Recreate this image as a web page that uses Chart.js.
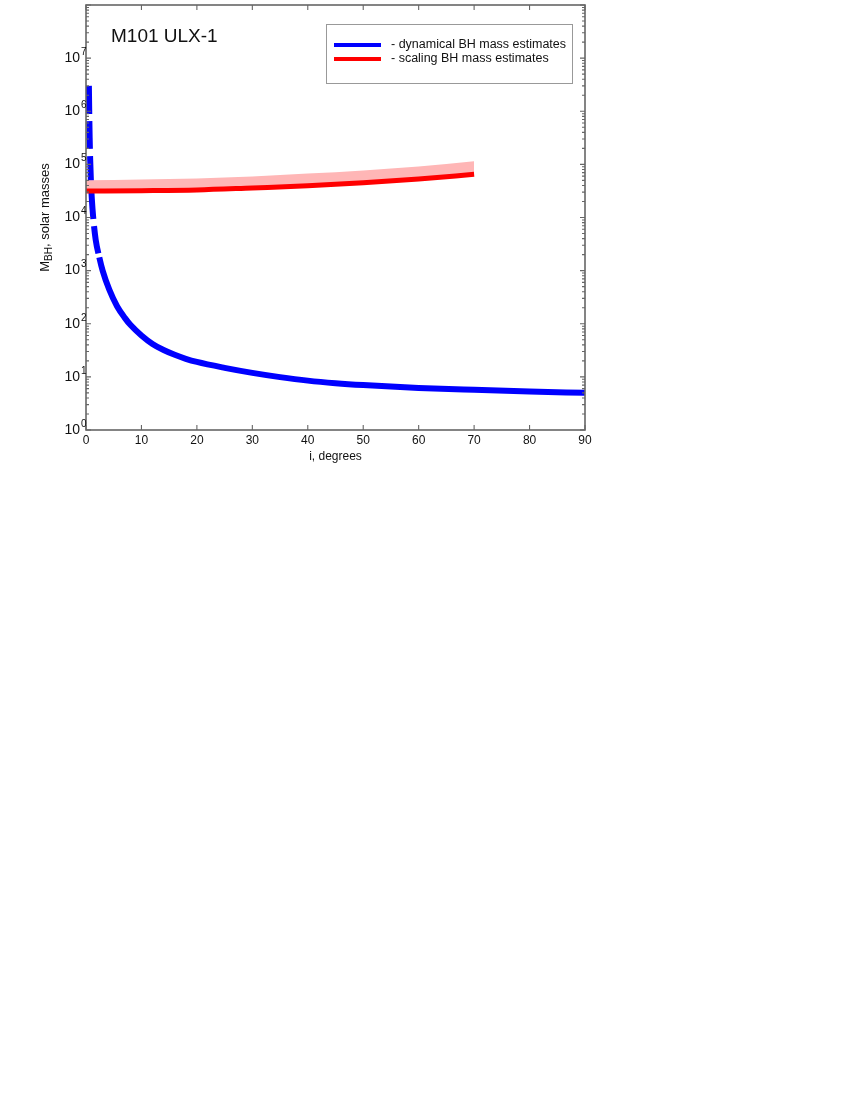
<!DOCTYPE html>
<html>
<head>
<meta charset="utf-8">
<script src="https://cdn.jsdelivr.net/npm/chart.js@4.4.1/dist/chart.umd.min.js"></script>
<style>
html,body{margin:0;padding:0;background:#fff;}
#wrap{position:relative;width:850px;height:1100px;}
</style>
</head>
<body>
<div id="wrap"><canvas id="c" width="850" height="1100"></canvas></div>
<script>
// dynamical BH mass vs inclination
const blueI=[0.52,0.58,0.66,0.75,0.88,1.05,1.3,1.75,2.4,3,4.2,5.6,7,8,10,12,14,16,18,20,25,30,35,40,45,50,60,70,80,90];
const blueM=[3.0e6,1.0e6,3.16e5,1.26e5,5.0e4,2.24e4,1.0e4,3.8e3,1.78e3,1.0e3,437,214,129,95.5,60.3,41.7,32.0,26.0,21.9,19.1,14.8,11.9,9.9,8.5,7.6,7.0,6.2,5.7,5.3,5.0];
// scaling BH mass (line) and upper edge of its band
const redI=[0,10,20,30,40,50,60,70];
const redM=[3.15e4,3.2e4,3.3e4,3.6e4,3.95e4,4.5e4,5.3e4,6.5e4];
const pinkM=[5.0e4,5.2e4,5.45e4,5.9e4,6.7e4,7.7e4,9.1e4,1.15e5];

const xTicks=[0,10,20,30,40,50,60,70,80,90];
const yExp=[0,1,2,3,4,5,6,7,8];
const title="M101 ULX-1";
const xTitle="i, degrees";
const dashedUpTo=2.4;

const pts=(xs,ys)=>xs.map((v,i)=>({x:v,y:ys[i]}));
const FONT='Arial, "Liberation Sans", sans-serif';

const decor={
  id:'decor',
  afterDatasetsDraw(chart){
    const {ctx,chartArea:a,scales:{x,y}}=chart;
    ctx.save();
    ctx.strokeStyle='#666';
    ctx.lineWidth=1.6;
    ctx.strokeRect(a.left,a.top,a.right-a.left,a.bottom-a.top);
    ctx.lineWidth=1.1;
    ctx.beginPath();
    xTicks.forEach(v=>{
      let px=x.getPixelForValue(v);
      ctx.moveTo(px,a.bottom);ctx.lineTo(px,a.bottom-5);
      ctx.moveTo(px,a.top);ctx.lineTo(px,a.top+5);
    });
    yExp.forEach(e=>{
      for(let k=1;k<10;k++){
        if(e===8&&k>1) break;
        let py=y.getPixelForValue(k*Math.pow(10,e));
        let len=k===1?5:3;
        ctx.moveTo(a.left,py);ctx.lineTo(a.left+len,py);
        ctx.moveTo(a.right,py);ctx.lineTo(a.right-len,py);
      }
    });
    ctx.stroke();

    ctx.fillStyle='#111';
    // x tick labels
    ctx.font='12px '+FONT;
    ctx.textAlign='center';ctx.textBaseline='middle';
    xTicks.forEach(v=>ctx.fillText(String(v),x.getPixelForValue(v),a.bottom+11));
    ctx.fillText(xTitle,(a.left+a.right)/2,a.bottom+27);

    // y tick labels 10^n
    yExp.forEach(e=>{
      if(e===8) return;
      let py=y.getPixelForValue(Math.pow(10,e));
      ctx.font='14px '+FONT;
      ctx.textAlign='right';ctx.textBaseline='middle';
      ctx.fillText('10',a.left-6,py);
      ctx.font='10px '+FONT;
      ctx.textAlign='left';
      ctx.fillText(String(e),a.left-5,py-6);
    });

    // y title with subscript
    ctx.save();
    ctx.translate(45,(a.top+a.bottom)/2);
    ctx.rotate(-Math.PI/2);
    ctx.textBaseline='middle';ctx.textAlign='left';
    const big='13px '+FONT, small='10px '+FONT;
    ctx.font=big;let w1=ctx.measureText('M').width,w3=ctx.measureText(', solar masses').width;
    ctx.font=small;let w2=ctx.measureText('BH').width;
    let sx=-(w1+w2+w3)/2;
    ctx.font=big;ctx.fillText('M',sx,0);
    ctx.font=small;ctx.fillText('BH',sx+w1,4);
    ctx.font=big;ctx.fillText(', solar masses',sx+w1+w2,0);
    ctx.restore();

    // title
    ctx.font='19px '+FONT;
    ctx.textAlign='left';ctx.textBaseline='alphabetic';
    ctx.fillText(title,111,42);

    // legend
    ctx.strokeStyle='#999';ctx.lineWidth=1;
    ctx.strokeRect(326.5,24.5,246,59);
    const items=chart.data.datasets.filter(d=>d.label);
    items.forEach((d,i)=>{
      let ly=45+i*14;
      ctx.strokeStyle=d.borderColor;ctx.lineWidth=4;ctx.setLineDash([]);
      ctx.beginPath();ctx.moveTo(334,ly);ctx.lineTo(381,ly);ctx.stroke();
      ctx.fillStyle='#111';
      ctx.font='12.5px '+FONT;
      ctx.textBaseline='middle';
      ctx.fillText('- '+d.label,391,ly);
    });
    ctx.restore();
  }
};

new Chart(document.getElementById('c'),{
  type:'line',
  data:{
    datasets:[
      {label:'dynamical BH mass estimates',data:pts(blueI,blueM),borderColor:'#0000ff',borderWidth:6,
       pointRadius:0,cubicInterpolationMode:'monotone',borderCapStyle:'butt',order:3,
       segment:{borderDash:c=>c.p1.parsed.x<=dashedUpTo?[28,7]:undefined}},
      {label:'scaling BH mass estimates',data:pts(redI,redM),borderColor:'#ff0000',borderWidth:5,
       pointRadius:0,cubicInterpolationMode:'monotone',borderCapStyle:'butt',order:1},
      {label:'',data:pts(redI,pinkM),borderColor:'#ffb6b6',borderWidth:0,backgroundColor:'#ffb6b6',
       pointRadius:0,cubicInterpolationMode:'monotone',fill:1,order:2}
    ]
  },
  options:{
    responsive:false,animation:false,devicePixelRatio:1,
    layout:{padding:{left:0,top:5,right:265,bottom:630}},
    plugins:{legend:{display:false},tooltip:{enabled:false}},
    scales:{
      x:{type:'linear',min:0,max:90,grid:{display:false},border:{display:false},ticks:{display:false},
         afterFit:s=>{s.height=40;}},
      y:{type:'logarithmic',min:1,max:1e8,grid:{display:false},border:{display:false},ticks:{display:false},
         afterFit:s=>{s.width=86;}}
    }
  },
  plugins:[decor]
});
</script>
</body>
</html>
